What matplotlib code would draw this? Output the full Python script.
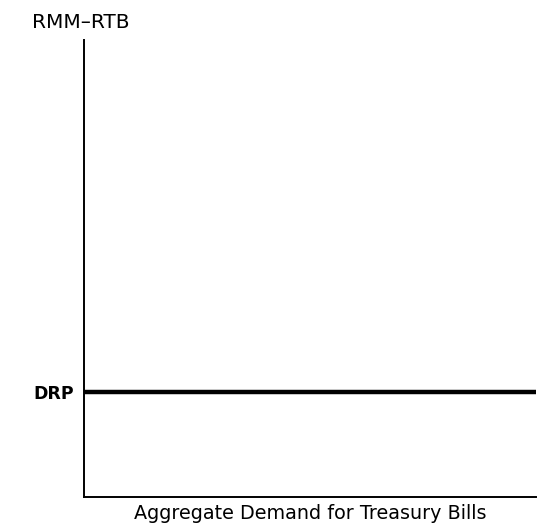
import matplotlib
matplotlib.use('Agg')
import matplotlib.pyplot as plt

plt.rcParams['font.family'] = ['DejaVu Sans']

# chart data
x_range = [0, 1]
drp_level = 0.23
drp_label = "DRP"
y_label = "RMM\u2013RTB"
x_label = "Aggregate Demand for Treasury Bills"

fig = plt.figure(figsize=(5.38, 5.25), dpi=100)
ax = fig.add_axes([0.156, 0.0533, 0.840, 0.871])

ax.plot(x_range, [drp_level, drp_level], color='black', lw=3.2, solid_capstyle='butt')

ax.set_xlim(x_range)
ax.set_ylim(0, 1)
ax.spines['top'].set_visible(False)
ax.spines['right'].set_visible(False)
ax.spines['left'].set_linewidth(1.4)
ax.spines['bottom'].set_linewidth(1.4)
ax.set_xticks([])

ax.set_yticks([drp_level])
ax.set_yticklabels([drp_label], fontsize=12.5, fontweight='bold')
ax.tick_params(axis='y', length=0, pad=7)

ax.set_xlabel(x_label, fontsize=13.8, labelpad=5)
fig.text(32 / 538, 1 - 22 / 525, y_label, fontsize=14.5, va='center', ha='left')

fig.savefig('out.png', dpi=100)
